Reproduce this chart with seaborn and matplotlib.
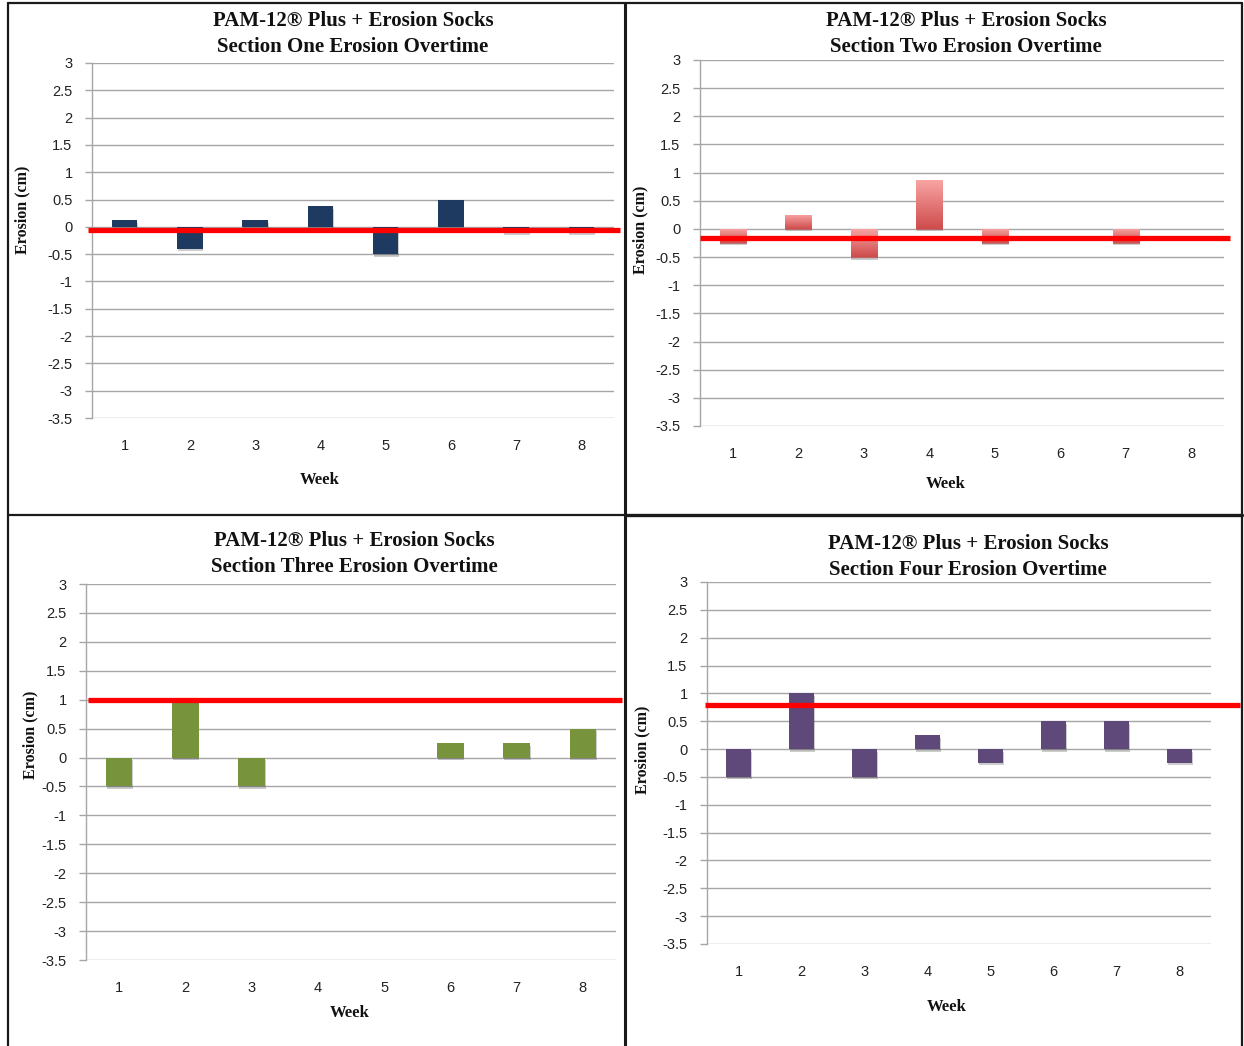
import numpy as np
import pandas as pd
import matplotlib
matplotlib.use("Agg")
import matplotlib.pyplot as plt
import matplotlib.patheffects as pe
from matplotlib.lines import Line2D
from matplotlib.colors import LinearSegmentedColormap
import seaborn as sns

# ---------------- data ----------------
weeks = ["1", "2", "3", "4", "5", "6", "7", "8"]
section_one = [0.12, -0.4, 0.12, 0.375, -0.5, 0.5, -0.1, -0.1]
section_two = [-0.25, 0.25, -0.5, 0.875, -0.25, 0.0, -0.25, 0.0]
section_three = [-0.5, 1.0, -0.5, 0.0, 0.0, 0.25, 0.25, 0.5]
section_four = [-0.5, 1.0, -0.5, 0.25, -0.25, 0.5, 0.5, -0.25]
red_levels = [-0.05, -0.16, 1.0, 0.8]
titles = ["Section One Erosion Overtime", "Section Two Erosion Overtime",
          "Section Three Erosion Overtime", "Section Four Erosion Overtime"]
title_top = "PAM-12® Plus + Erosion Socks"
yticks = [3, 2.5, 2, 1.5, 1, 0.5, 0, -0.5, -1, -1.5, -2, -2.5, -3, -3.5]

sns.set_theme(style="white")
plt.rcParams["font.family"] = ["Liberation Sans", "DejaVu Sans"]

W, H = 1244, 1046
fig = plt.figure(figsize=(W / 100, H / 100), dpi=100)
fig.patch.set_facecolor("white")


def px_axes(x0, yt, x1, yb):
    return fig.add_axes([x0 / W, 1 - yb / H, (x1 - x0) / W, (yb - yt) / H])


panels = [
    dict(box=(92, 63, 614, 418), vals=section_one, color="#1F3A60", width=0.39,
         title_xy=(353, 34), ylab_xy=(22, 210), week_xy=(320, 480), line=(-0.008, 1.011)),
    dict(box=(700, 60, 1224, 426), vals=section_two, color="#E57373", width=0.4,
         title_xy=(966, 34), ylab_xy=(640, 230), week_xy=(946, 484), line=(0.0, 1.011)),
    dict(box=(86, 584, 616, 960), vals=section_three, color="#77933C", width=0.4,
         title_xy=(354, 554), ylab_xy=(30, 735), week_xy=(350, 1013), line=(0.004, 1.011)),
    dict(box=(707, 582, 1211, 944), vals=section_four, color="#5F497A", width=0.4,
         title_xy=(968, 557), ylab_xy=(642, 750), week_xy=(947, 1007), line=(-0.004, 1.058)),
]

grad_cmap = LinearSegmentedColormap.from_list("pinkred", ["#F9A5A5", "#CF4C4C"])
shadow = [pe.SimplePatchShadow(offset=(0.6, -1.8), shadow_rgbFace="black", alpha=0.2), pe.Normal()]
serif = ["Liberation Serif", "DejaVu Serif"]

for i, p in enumerate(panels):
    ax = px_axes(*p["box"])
    df = pd.DataFrame({"Week": weeks, "Erosion": p["vals"]})
    sns.barplot(data=df, x="Week", y="Erosion", order=weeks, ax=ax, color=p["color"],
                saturation=1, width=p["width"], errorbar=None, zorder=3,
                linewidth=0, edgecolor="none")
    for patch, v in zip(ax.patches, p["vals"]):
        if abs(v) < 1e-9:
            patch.set_visible(False)
        patch.set_path_effects(shadow)
    if i == 1:
        for patch in ax.patches:
            if not patch.get_visible():
                continue
            x, y0 = patch.get_x(), patch.get_y()
            w, h = patch.get_width(), patch.get_height()
            lo, hi = min(y0, y0 + h), max(y0, y0 + h)
            grad = np.linspace(0, 1, 64).reshape(-1, 1)
            im = ax.imshow(grad, cmap=grad_cmap, aspect="auto", origin="upper",
                           extent=[x, x + w, lo, hi], zorder=3.5)
            im.set_clip_path(patch)
            patch.set_facecolor("none")
            patch.set_edgecolor("#C46060")
            patch.set_linewidth(0.6)
    ax.set_xlim(-0.5, 7.5)
    ax.set_ylim(-3.5, 3)
    ax.set_yticks(yticks)
    ax.set_yticklabels([f"{t:g}" for t in yticks], fontsize=10.5, color="#222222")
    ax.set_xticklabels(weeks, fontsize=10.5, color="#222222")
    ax.set_xlabel("")
    ax.set_ylabel("")
    for t in yticks:
        ax.axhline(t, color="#A6A6A6", lw=1.0, zorder=1)
    for s in ["top", "right", "bottom"]:
        ax.spines[s].set_visible(False)
    ax.spines["left"].set_color("#A6A6A6")
    ax.spines["left"].set_linewidth(1.0)
    ax.tick_params(axis="y", which="major", left=True, length=5, width=1.0,
                   color="#A6A6A6", pad=9)
    ax.tick_params(axis="x", which="major", bottom=False, length=0, pad=15)
    ax.set_facecolor("white")
    ax.axhline(red_levels[i], xmin=p["line"][0], xmax=p["line"][1], color="#FF0000",
               lw=3.8, clip_on=False, zorder=6, solid_capstyle="butt")

    tx, ty = p["title_xy"]
    fig.text(tx / W, 1 - ty / H, title_top + "\n" + titles[i], ha="center", va="center",
             fontsize=15, fontweight="bold", family=serif, linespacing=1.42, color="#111111")
    yx, yy = p["ylab_xy"]
    fig.text(yx / W, 1 - yy / H, "Erosion (cm)", rotation=90, ha="center", va="center",
             fontsize=11.5, fontweight="bold", family=serif, color="#111111")
    wx, wy = p["week_xy"]
    fig.text(wx / W, 1 - wy / H, "Week", ha="center", va="center",
             fontsize=12, fontweight="bold", family=serif, color="#111111")

# panel borders
def border(x0, y0, x1, y1, lw=1.6):
    fig.add_artist(Line2D([x0 / W, x1 / W], [1 - y0 / H, 1 - y1 / H],
                          transform=fig.transFigure, color="#1A1A1A", lw=lw))

border(8, 3, 1242, 3)
border(8, 3, 8, H)
border(625, 3, 625, H, lw=2.2)
border(1242, 3, 1242, H)
border(8, 515, 625, 515)
border(625, 515, 1242, 515, lw=2.4)

fig.savefig("out.png", dpi=100, facecolor="white")
